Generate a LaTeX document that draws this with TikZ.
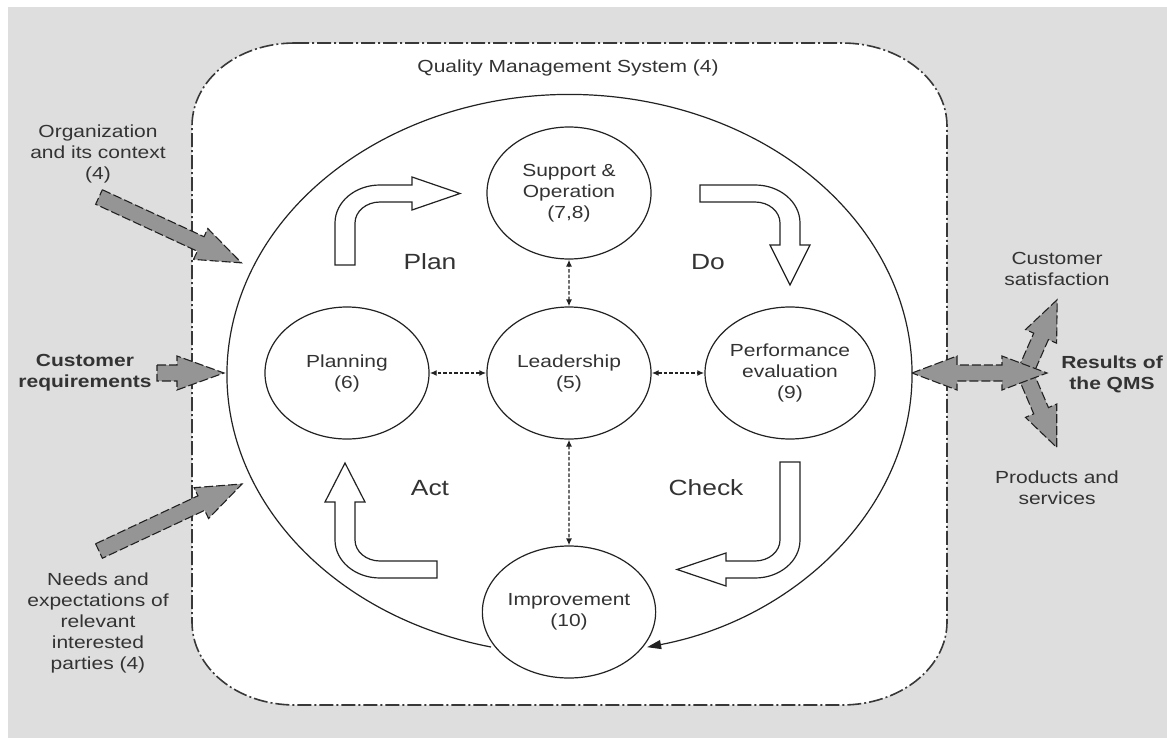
\documentclass[tikz,border=0pt]{standalone}
\usepackage{fontspec}
\setmainfont{Liberation Sans}
\usetikzlibrary{arrows.meta,shapes.geometric}
\definecolor{bggray}{HTML}{DEDEDE}
\definecolor{arrgray}{HTML}{959595}
\definecolor{ink}{HTML}{222222}
\definecolor{txt}{HTML}{333333}
\newcommand\garrow[5]{%
  \begin{scope}[shift={(#1,#2)},rotate=#3]
    \draw[gstyle] (0,-8) -- ({#4-#5},-8) -- ({#4-#5},-17) -- (#4,0) -- ({#4-#5},17) -- ({#4-#5},8) -- (0,8) -- cycle;
  \end{scope}}
\begin{document}
\begin{tikzpicture}[x=1pt,y=-1pt,
  lbl/.style={font=\fontsize{17.5}{21}\selectfont, align=center, xscale=1.2, inner sep=0pt, text=txt},
  bold/.style={lbl, font=\fontsize{17.5}{21}\selectfont\bfseries},
  biglbl/.style={font=\fontsize{22}{26}\selectfont, xscale=1.2, inner sep=0pt, text=txt},
  circ/.style={ellipse, draw=ink, line width=1.2pt, fill=white, minimum width=136.7pt, minimum height=132pt, lbl},
  warrow/.style={draw=ink, line width=1.2pt, fill=white, line join=miter},
  gstyle/.style={fill=arrgray, draw=ink, line width=1.1pt, dash pattern=on 9pt off 3pt},
  dotarr/.style={draw=ink, line width=1.4pt, dash pattern=on 3.5pt off 2pt, {Latex[length=7pt,width=6pt]}-{Latex[length=7pt,width=6pt]}},
  qms/.style={draw=ink!90, line width=1.6pt, fill=white, dash pattern=on 14pt off 3pt on 2pt off 3pt}
]
\useasboundingbox (0,0) rectangle (1167,738);
\fill[white] (0,0) rectangle (1167,738);
\fill[bggray] (8,7) rectangle (1167,738);

% QMS frame
\draw[qms] (295,43) -- (842,43) .. controls (900,43) and (947,80.2) .. (947,126)
  -- (947,622) .. controls (947,667.8) and (900,705) .. (842,705)
  -- (295,705) .. controls (237,705) and (192,667.8) .. (192,622)
  -- (192,126) .. controls (192,80.2) and (237,43) .. (295,43) -- cycle;
\node[lbl] (title) at (568,68) {Quality Management System (4)};

% big cycle ellipse
\draw[ink, line width=1.2pt, -{Triangle[length=14pt,width=9pt]}]
  (491,647) arc[start angle=103.25, end angle=436.9, x radius=342.5, y radius=280];

% white block arrows
\draw[warrow] (335,265) -- (335,223) .. controls (335,202) and (355.1,185) .. (380,185)
  -- (412,185) -- (412,177) -- (460,193.5) -- (412,210) -- (412,202) -- (380,202)
  .. controls (366.2,202) and (355,211.4) .. (355,223) -- (355,265) -- cycle;
\draw[warrow] (700,185) -- (755,185) .. controls (779.9,185) and (800,202) .. (800,223)
  -- (800,245) -- (810,245) -- (790,285) -- (770,245) -- (780,245) -- (780,223)
  .. controls (780,211.4) and (768.8,202) .. (755,202) -- (700,202) -- cycle;
\draw[warrow] (780,462) -- (800,462) -- (800,540) .. controls (800,561) and (779.9,578) .. (755,578)
  -- (726,578) -- (726,586) -- (677,569.5) -- (726,553) -- (726,561) -- (755,561)
  .. controls (768.8,561) and (780,551.6) .. (780,540) -- cycle;
\draw[warrow] (437,561) -- (437,578) -- (380,578) .. controls (355.1,578) and (335,561) .. (335,540)
  -- (335,502) -- (325,502) -- (345,463) -- (365,502) -- (355,502) -- (355,540)
  .. controls (355,551.6) and (366.2,561) .. (380,561) -- cycle;

% PDCA labels
\node[biglbl] (plan) at (430,262) {Plan};
\node[biglbl] (do) at (708,262) {Do};
\node[biglbl] (act) at (430,488) {Act};
\node[biglbl] (check) at (706,488) {Check};

% circles
\node[circ] (sup) at (569,193) {Support \&\\Operation\\(7,8)};
\node[circ] (lead) at (569,373) {Leadership\\(5)};
\node[circ] (planning) at (347,373) {Planning\\(6)};
\node[circ] (perf) at (790,373) {Performance\\evaluation\\(9)};
\node[circ] (imp) at (569,612) {Improvement\\(10)};

\draw[dotarr] (lead) -- (sup);
\draw[dotarr] (lead) -- (planning);
\draw[dotarr] (lead) -- (perf);
\draw[dotarr] (lead) -- (imp);

% grey input arrows
\garrow{99}{197}{-24.8}{157}{45}
\garrow{157}{373}{0}{67}{47}
\garrow{99}{551}{25.1}{158}{45}

% grey output arrows
\garrow{1025}{373}{66.3}{80}{40}
\garrow{1025}{373}{-66.9}{81}{40}
\draw[gstyle] (912,373) -- (957,356) -- (957,365) -- (1002,365) -- (1002,356) -- (1047,373)
  -- (1002,390) -- (1002,381) -- (957,381) -- (957,390) -- cycle;

% outside labels
\node[lbl] (org) at (98,153.5) {Organization\\and its context\\(4)};
\node[bold] (cust) at (85,373) {Customer\\requirements};
\node[lbl] (needs) at (98,623) {Needs and\\expectations of\\relevant\\interested\\parties (4)};
\node[lbl] (cs) at (1057,269) {Customer\\satisfaction};
\node[bold] (res) at (1112,374) {Results of\\the QMS};
\node[lbl] (ps) at (1057,487.5) {Products and\\services};
\end{tikzpicture}
\end{document}
